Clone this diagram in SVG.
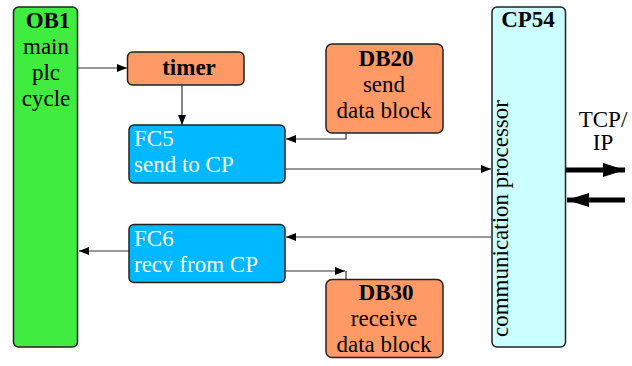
<svg xmlns="http://www.w3.org/2000/svg" width="632" height="366" viewBox="0 0 632 366">
<style>
.box{stroke:#222;stroke-width:1.5}
.t{font-family:"Liberation Serif",serif;font-size:23px;fill:#000}
.b{font-weight:bold}
.w{fill:#fff}
.c{stroke:#333;stroke-width:1.2;fill:none}
.thick{stroke:#000;stroke-width:5;fill:none}
</style>
<defs>
<marker id="ah" viewBox="0 0 10 8" refX="10" refY="4" markerWidth="10" markerHeight="8" markerUnits="userSpaceOnUse" orient="auto">
<path d="M0,0 L10,4 L0,8 Z" fill="#000"/>
</marker>
<marker id="big" viewBox="0 0 22 14" refX="22" refY="7" markerWidth="22" markerHeight="14" markerUnits="userSpaceOnUse" orient="auto">
<path d="M0,0 L22,7 L0,14 Z" fill="#000"/>
</marker>
</defs>
<rect width="632" height="366" fill="#fff"/>
<g id="OB1">
<rect class="box" x="13.5" y="7" width="64" height="340" rx="5" fill="#3fec3f"/>
<text class="t b" x="48" y="28" text-anchor="middle">OB1</text>
<text class="t" x="46" y="54" text-anchor="middle">main</text>
<text class="t" x="46" y="80" text-anchor="middle">plc</text>
<text class="t" x="46" y="106" text-anchor="middle">cycle</text>
</g>
<g id="timer">
<rect class="box" x="127.5" y="52" width="116.5" height="33" rx="5" fill="#ff9966"/>
<text class="t b" x="189" y="75" text-anchor="middle">timer</text>
</g>
<g id="DB20">
<rect class="box" x="326" y="44" width="117" height="89" rx="6" fill="#ff9966"/>
<text class="t b" x="386" y="66" text-anchor="middle">DB20</text>
<text class="t" x="384" y="92" text-anchor="middle">send</text>
<text class="t" x="384" y="118" text-anchor="middle">data block</text>
</g>
<g id="FC5">
<rect class="box" x="129" y="125" width="156" height="58" rx="5" fill="#00b8ff"/>
<text class="t w" x="134" y="146">FC5</text>
<text class="t w" x="134" y="172">send to CP</text>
</g>
<g id="FC6">
<rect class="box" x="129" y="224.5" width="156" height="58" rx="5" fill="#00b8ff"/>
<text class="t w" x="134" y="246">FC6</text>
<text class="t w" x="134" y="272">recv from CP</text>
</g>
<g id="DB30">
<rect class="box" x="326" y="279.5" width="117" height="78" rx="6" fill="#ff9966"/>
<text class="t b" x="386" y="300" text-anchor="middle">DB30</text>
<text class="t" x="384" y="326" text-anchor="middle">receive</text>
<text class="t" x="384" y="352" text-anchor="middle">data block</text>
</g>
<g id="CP54">
<rect class="box" x="492" y="7" width="73.5" height="340" rx="5" fill="#ccffff"/>
<text class="t b" x="528" y="27" text-anchor="middle">CP54</text>
<text class="t" transform="translate(508,337) rotate(-90)">communication processor</text>
<text class="t" x="603" y="127" text-anchor="middle">TCP/</text>
<text class="t" x="603" y="150" text-anchor="middle">IP</text>
</g>
<g id="connectors">
<path class="c" d="M78,68 H127" marker-end="url(#ah)"/>
<path class="c" d="M182,85 V125" marker-end="url(#ah)"/>
<path class="c" d="M346,133 V139 H286" marker-end="url(#ah)"/>
<path class="c" d="M285,169 H491" marker-end="url(#ah)"/>
<path class="c" d="M491,237 H286" marker-end="url(#ah)"/>
<path class="c" d="M129,251 H79" marker-end="url(#ah)"/>
<path class="c" d="M285,271 H345"  marker-end="url(#ah)"/>
<path class="c" d="M346,271 V279"/>
<path class="thick" d="M566,170 H625" marker-end="url(#big)"/>
<path class="thick" d="M625,200 H567" marker-end="url(#big)"/>
</g>
</svg>
